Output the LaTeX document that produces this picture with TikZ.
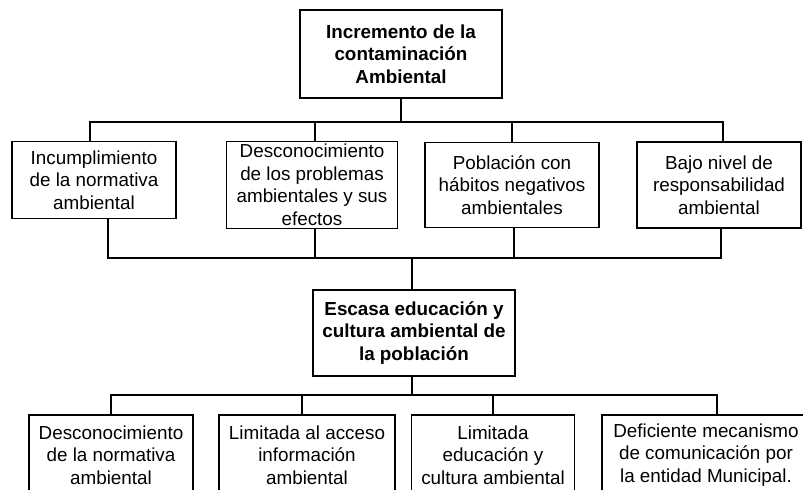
\documentclass[tikz,border=0pt]{standalone}
\usepackage{fontspec}
\setmainfont{Liberation Sans}
\usetikzlibrary{positioning}
\newdimen\pix
\pix=0.025cm
\tikzset{
    box/.style={
        draw,
        line width=1pt,
        align=center,
        inner sep=0pt,
        font=\fontsize{13.4}{16}\selectfont
    },
    head/.style={
        box,
        font=\fontsize{13.4}{16}\selectfont\bfseries
    },
    link/.style={
        line width=0.9pt
    }
}

\begin{document}
\begin{tikzpicture}[x=0.025cm,y=-0.025cm]
  \useasboundingbox (0,0) rectangle (803,490);

  % effect
  \node[head, minimum width=202\pix, minimum height=88\pix] at (401,54) (top)
    {Incremento de la\\contaminación\\Ambiental};

  % direct effects
  \node[box, minimum width=164\pix, minimum height=77\pix] at (94,180) (c1)
    {Incumplimiento\\de la normativa\\ambiental};
  \node[box, minimum width=171\pix, minimum height=87\pix] at (312,185) (c2)
    {Desconocimiento\\de los problemas\\ambientales y sus\\efectos};
  \node[box, minimum width=174\pix, minimum height=85\pix] at (512,185) (c3)
    {Población con\\hábitos negativos\\ambientales};
  \node[box, minimum width=164\pix, minimum height=86\pix] at (719,185) (c4)
    {Bajo nivel de\\responsabilidad\\ambiental};

  % central problem
  \node[head, minimum width=202\pix, minimum height=86\pix] at (414,333) (mid)
    {Escasa educación y\\cultura ambiental de\\la población};

  % causes
  \node[box, minimum width=164\pix, minimum height=80\pix] at (111,455) (d1)
    {Desconocimiento\\de la normativa\\ambiental};
  \node[box, minimum width=176\pix, minimum height=80\pix] at (307,455) (d2)
    {Limitada al acceso\\información\\ambiental};
  \node[box, minimum width=163\pix, minimum height=80\pix] at (493,455) (d3)
    {Limitada\\educación y\\cultura ambiental};
  \node[box, minimum width=208\pix, minimum height=80\pix] at (706,455) (d4)
    {Deficiente mecanismo\\de comunicación por\\la entidad Municipal.};

  \coordinate (bus1) at (0,122);
  \coordinate (bus2) at (0,258);
  \coordinate (bus3) at (0,395);

  % where the connectors meet the boxes
  \coordinate (c1n) at ([xshift=-4\pix]c1.north);
  \coordinate (c2n) at ([xshift=3\pix]c2.north);
  \coordinate (c4n) at ([xshift=4\pix]c4.north);
  \coordinate (c1s) at ([xshift=14\pix]c1.south);
  \coordinate (c2s) at ([xshift=3\pix]c2.south);
  \coordinate (c3s) at ([xshift=2\pix]c3.south);
  \coordinate (c4s) at ([xshift=2\pix]c4.south);
  \coordinate (midn) at ([xshift=-2\pix]mid.north);
  \coordinate (mids) at ([xshift=-2\pix]mid.south);
  \coordinate (d2n) at ([xshift=-5\pix]d2.north);
  \coordinate (d4n) at ([xshift=11\pix]d4.north);

  \draw[link] (top.south) -- (top.south |- bus1);
  \draw[link] (c1n) |- (bus1 -| c4n) -- (c4n);
  \draw[link] (c2n) -- (c2n |- bus1);
  \draw[link] (c3.north) -- (c3.north |- bus1);

  \draw[link] (c1s) |- (bus2 -| c4s) -- (c4s);
  \draw[link] (c2s) -- (c2s |- bus2);
  \draw[link] (c3s) -- (c3s |- bus2);
  \draw[link] (midn) -- (midn |- bus2);

  \draw[link] (mids) -- (mids |- bus3);
  \draw[link] (d1.north) |- (bus3 -| d4n) -- (d4n);
  \draw[link] (d2n) -- (d2n |- bus3);
  \draw[link] (d3.north) -- (d3.north |- bus3);

\end{tikzpicture}
\end{document}
